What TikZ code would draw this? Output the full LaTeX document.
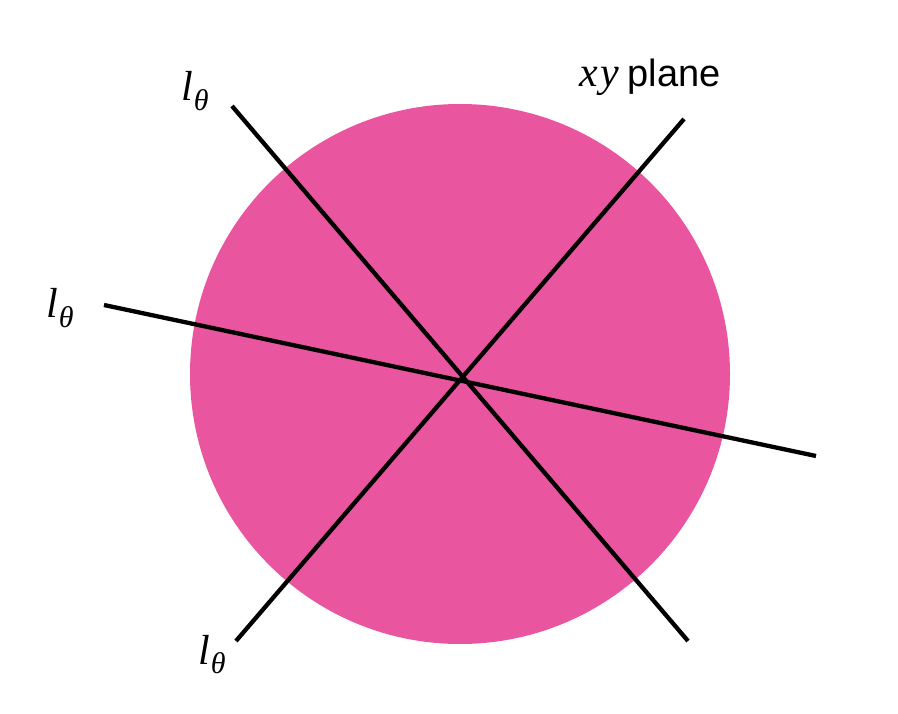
\documentclass[tikz,border=0pt]{standalone}
\usepackage{fontspec}
\setmainfont{Liberation Serif}
\newfontfamily\plainsans{Liberation Sans}
\newcommand{\ltheta}{\textit{l}\kern1pt\raisebox{-0.22em}{\fontsize{30}{34}\selectfont\textit{θ}}}
\begin{document}
\begin{tikzpicture}[x=1pt,y=-1pt,
  ln/.style={line width=4.3pt,black},
  lbl/.style={inner sep=0pt,anchor=base west,font=\fontsize{42}{48}\selectfont}]
\useasboundingbox (0,0) rectangle (898,714);
\definecolor{pinkdisk}{HTML}{EA55A0}
\coordinate (c) at (460,374);
\fill[pinkdisk] (c) circle (270);
\coordinate (a1) at (232,106);
\coordinate (a2) at (688,641);
\coordinate (b1) at (684,119);
\coordinate (b2) at (236,641);
\coordinate (d1) at (104,305);
\coordinate (d2) at (816,456);
\draw[ln] (a1) -- (a2);
\draw[ln] (b1) -- (b2);
\draw[ln] (d1) -- (d2);
\node[lbl] (t1) at (181,101) {\ltheta};
\node[lbl] (t2) at (46,318) {\ltheta};
\node[lbl] (t3) at (198,664) {\ltheta};
\node[lbl] (t4) at (579,87) {\textit{x\kern3pt y}\kern8pt{\plainsans\fontsize{38}{44}\selectfont plane}};
\end{tikzpicture}
\end{document}
